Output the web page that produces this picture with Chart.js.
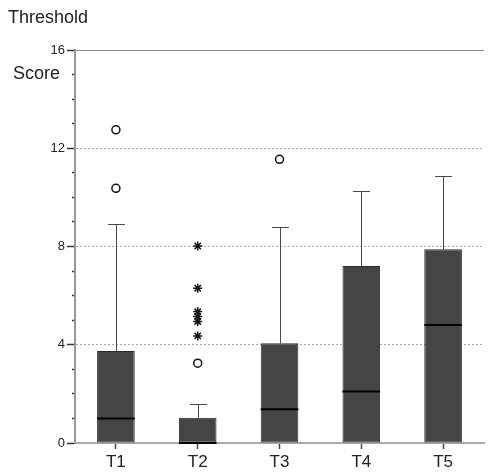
<!DOCTYPE html>
<html>
<head>
<meta charset="utf-8">
<script src="https://cdn.jsdelivr.net/npm/chart.js@4"></script>
<style>
  html, body { margin: 0; padding: 0; background: #fff; }
  #wrap { width: 490px; height: 474px; position: relative; }
</style>
</head>
<body>
<div id="wrap"><canvas id="chart"></canvas></div>
<script>
// box plot summary per treatment
const categories = ['T1', 'T2', 'T3', 'T4', 'T5'];
const q1 = [0, 0, 0, 0, 0];
const medians = [1.0, 0, 1.37, 2.1, 4.8];
const q3 = [3.75, 1.03, 4.06, 7.21, 7.89];
const whiskerLow = [0, 0, 0, 0, 0];
const whiskerHigh = [8.93, 1.58, 8.81, 10.26, 10.88];

// outliers (o) and extremes (*)
const outlierCats = ['T1', 'T1', 'T2', 'T3'];
const outlierValues = [12.75, 10.37, 3.25, 11.55];
const extremeCats = ['T2', 'T2', 'T2', 'T2', 'T2', 'T2'];
const extremeValues = [8.02, 6.3, 5.35, 5.15, 4.95, 4.36];

const yTicksMajor = [0, 4, 8, 12, 16];

const boxPlotPlugin = {
  id: 'boxPlot',
  beforeDatasetsDraw(chart) {
    const { ctx, scales: { x, y }, chartArea } = chart;
    ctx.save();
    // top frame line at 16
    ctx.strokeStyle = '#888';
    ctx.lineWidth = 1;
    ctx.beginPath();
    const yTop = Math.round(y.getPixelForValue(16)) + 0.5;
    ctx.moveTo(chartArea.left, yTop);
    ctx.lineTo(chartArea.right, yTop);
    ctx.stroke();
    // whiskers
    ctx.strokeStyle = '#4a4a4a';
    categories.forEach((c, i) => {
      const cx = Math.round(x.getPixelForValue(i)) + 0.5;
      const cap = 8.5;
      [[q3[i], whiskerHigh[i]], [q1[i], whiskerLow[i]]].forEach(([from, to]) => {
        if (from === to) return;
        const y1 = y.getPixelForValue(from);
        const y2 = Math.round(y.getPixelForValue(to)) + 0.5;
        ctx.beginPath();
        ctx.moveTo(cx, y1);
        ctx.lineTo(cx, y2);
        ctx.moveTo(cx - cap, y2);
        ctx.lineTo(cx + cap, y2);
        ctx.stroke();
      });
    });
    ctx.restore();
  },
  afterDatasetsDraw(chart) {
    const { ctx, scales: { x, y } } = chart;
    const meta = chart.getDatasetMeta(0);
    ctx.save();
    ctx.strokeStyle = '#000';
    ctx.lineWidth = 2;
    categories.forEach((c, i) => {
      const half = meta.data[i].width / 2;
      const cx = x.getPixelForValue(i);
      const my = y.getPixelForValue(medians[i]);
      ctx.beginPath();
      ctx.moveTo(cx - half, my);
      ctx.lineTo(cx + half, my);
      ctx.stroke();
    });
    ctx.restore();
  },
  afterDraw(chart) {
    const { ctx } = chart;
    ctx.save();
    ctx.fillStyle = '#222';
    ctx.font = '18px "Liberation Sans", Arial, sans-serif';
    ctx.textBaseline = 'alphabetic';
    ctx.fillText('Threshold', 8, 23);
    ctx.fillText('Score', 13, 79);
    ctx.restore();
  }
};

new Chart(document.getElementById('chart'), {
  type: 'bar',
  data: {
    labels: categories,
    datasets: [
      {
        type: 'bar',
        data: categories.map((c, i) => [q1[i], q3[i]]),
        backgroundColor: '#454545',
        borderColor: '#2c2c2c',
        borderWidth: 1,
        borderSkipped: false,
        categoryPercentage: 1,
        barPercentage: 0.46,
        order: 2,
      },
      {
        type: 'line',
        data: outlierCats.map((c, i) => ({ x: c, y: outlierValues[i] })),
        showLine: false,
        pointStyle: 'circle',
        pointRadius: 4,
        pointBorderWidth: 1.5,
        pointBorderColor: '#111',
        pointBackgroundColor: '#fff',
        order: 1,
      },
      {
        type: 'line',
        data: extremeCats.map((c, i) => ({ x: c, y: extremeValues[i] })),
        showLine: false,
        pointStyle: 'star',
        pointRadius: 4.5,
        pointBorderWidth: 1.5,
        pointBorderColor: '#111',
        pointBackgroundColor: '#111',
        order: 1,
      },
    ],
  },
  options: {
    responsive: true,
    maintainAspectRatio: false,
    animation: false,
    events: [],
    layout: { padding: { top: 50, right: 0, bottom: 0, left: 0 } },
    plugins: { legend: { display: false }, tooltip: { enabled: false }, title: { display: false } },
    scales: {
      x: {
        afterFit(scale) { scale.height = 31; },
        grid: {
          offset: false,
          drawOnChartArea: false,
          drawTicks: true,
          tickLength: 6,
          tickWidth: 1.5,
          tickColor: '#444',
        },
        border: { display: true, color: '#aaa', width: 2 },
        ticks: {
          color: '#222',
          padding: 3,
          font: { family: '"Liberation Sans", Arial, sans-serif', size: 17 },
        },
      },
      y: {
        min: 0,
        max: 16,
        afterFit(scale) { scale.width = 75; },
        grid: {
          color: (ctx) => ([4, 8, 12].includes(ctx.tick && ctx.tick.value) ? '#aaa' : 'rgba(0,0,0,0)'),
          lineWidth: 1,
          tickLength: 8,
          tickColor: '#333',
          tickWidth: 1.5,
          tickBorderDash: (ctx) => (yTicksMajor.includes(ctx.tick && ctx.tick.value) ? [] : [0, 5, 3, 50]),
        },
        border: { display: true, color: '#999', width: 2, dash: [2, 2] },
        ticks: {
          stepSize: 1,
          autoSkip: false,
          padding: 2,
          color: '#222',
          font: { family: '"Liberation Sans", Arial, sans-serif', size: 13 },
          callback: (v) => (yTicksMajor.includes(v) ? String(v) : ''),
        },
      },
    },
  },
  plugins: [boxPlotPlugin],
});
</script>
</body>
</html>
